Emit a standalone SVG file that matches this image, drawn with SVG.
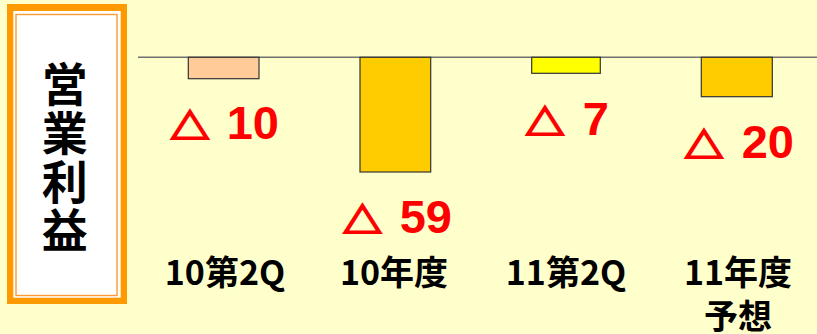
<svg xmlns="http://www.w3.org/2000/svg" width="817" height="334" viewBox="0 0 817 334">
<style>
.bar{stroke:#333333;stroke-width:1.2}
.val{fill:#FF0000;font-family:"Liberation Sans",Arial,sans-serif;font-weight:bold;font-size:47px}
.tri{fill:#FF0000;stroke:#FF0000;stroke-width:2.4;font-family:"Noto Sans CJK JP",sans-serif;font-weight:bold;font-size:39px;text-anchor:middle}
.cat{fill:#000000;font-family:"Noto Sans CJK JP",sans-serif;font-weight:bold;font-size:34px;text-anchor:middle}
.ttl{fill:#000000;font-family:"Noto Sans CJK JP",sans-serif;font-weight:bold;font-size:46px;text-anchor:middle}
</style>
<rect x="0" y="0" width="817" height="334" fill="#FFFFCC"/>
<g id="title">
<rect x="7" y="4" width="120" height="300" fill="#FF9900"/>
<rect x="13.3" y="11" width="107.4" height="286.7" fill="#FFFFFF"/>
<rect x="16" y="14.5" width="101" height="281" fill="none" stroke="#FF9933" stroke-width="1.4"/>
<text class="ttl"><tspan x="64.7" y="101">営</tspan><tspan x="64.7" y="150">業</tspan><tspan x="64.7" y="199">利</tspan><tspan x="64.7" y="247">益</tspan></text>
</g>
<g id="connectors">
<line x1="138" y1="57.3" x2="817" y2="57.3" stroke="#707070" stroke-width="1.6"/>
</g>
<g id="bar1">
<rect class="bar" x="188.3" y="57.3" width="70.7" height="21.4" fill="#FFCC99"/>
<text class="tri" transform="translate(190,139) scale(1,0.88)">△</text>
<text class="val" x="279" y="139" text-anchor="end">10</text>
<text class="cat" x="225" y="285">10第2Q</text>
</g>
<g id="bar2">
<rect class="bar" x="360" y="57.3" width="70.7" height="114.7" fill="#FFCC00"/>
<text class="tri" transform="translate(362.5,233) scale(1,0.88)">△</text>
<text class="val" x="452" y="233" text-anchor="end">59</text>
<text class="cat" x="394" y="285">10年度</text>
</g>
<g id="bar3">
<rect class="bar" x="531.7" y="57.3" width="68.6" height="16" fill="#FFFF00"/>
<text class="tri" transform="translate(545,135) scale(1,0.88)">△</text>
<text class="val" x="609" y="135" text-anchor="end">7</text>
<text class="cat" x="566" y="285">11第2Q</text>
</g>
<g id="bar4">
<rect class="bar" x="701.3" y="57.3" width="71" height="39.4" fill="#FFCC00"/>
<text class="tri" transform="translate(704,158) scale(1,0.88)">△</text>
<text class="val" x="794" y="158" text-anchor="end">20</text>
<text class="cat" x="738" y="285">11年度</text>
<text class="cat" x="738" y="329">予想</text>
</g>
</svg>
